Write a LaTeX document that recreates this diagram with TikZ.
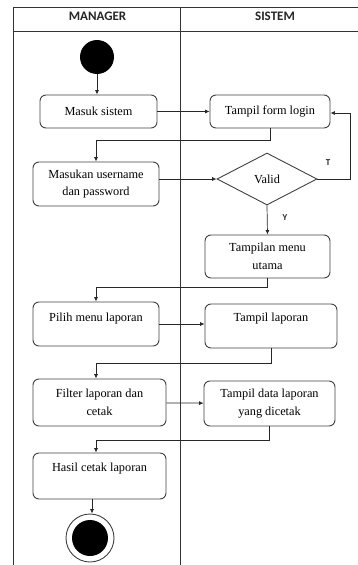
\documentclass[tikz,border=0pt]{standalone}
\usepackage{fontspec}
\setmainfont{Liberation Serif}
\newfontfamily\headfont{Carlito}
\usetikzlibrary{shapes.geometric,arrows.meta}
\tikzset{
  actbox/.style={draw=black!75, line width=0.9pt, rounded corners=6pt, align=center,
    inner sep=2pt, font=\fontsize{12.3}{17.5}\selectfont},
  decision/.style={diamond, draw=black!75, line width=0.9pt, inner sep=0pt,
    minimum width=100pt, minimum height=52pt, font=\fontsize{12.3}{17.5}\selectfont},
  flow/.style={draw=black!85, line width=0.7pt, -{Latex[length=4.5pt,width=4pt]}},
  lane/.style={draw=black!80, line width=0.9pt},
  lanehead/.style={font=\headfont\bfseries\fontsize{13}{15}\selectfont, text=black!85},
  guard/.style={font=\headfont\bfseries\fontsize{9}{10}\selectfont, text=black!85}
}
\begin{document}
\begin{tikzpicture}[x=1pt, y=-1pt]
  \useasboundingbox (0,0) rectangle (358,565);
  \draw[lane] (13,565) -- (13,7) -- (358,7);
  \draw[lane] (13,31) -- (358,31);
  \draw[lane] (180,7) -- (180,565);
  \node[lanehead] (hmgr) at (97.5,16) {MANAGER};
  \node[lanehead] (hsys) at (275,16) {SISTEM};

  \node (start) [circle, fill=black, minimum size=34pt, inner sep=0pt] at (97,57) {};
  \node (masuk) [actbox, minimum width=117pt, minimum height=33pt] at (98.5,111.5) {Masuk sistem};
  \node (login) [actbox, minimum width=120pt, minimum height=33pt] at (270,111.5) {Tampil form login};
  \node (masukan) [actbox, minimum width=126pt, minimum height=44pt] at (96,184) {Masukan username\\dan password};
  \node (valid) [decision] at (267,179) {Valid};
  \node (menu) [actbox, minimum width=125pt, minimum height=43pt] at (267.5,256.5) {Tampilan menu\\utama};
  \node (pilih) [actbox, minimum width=126pt, minimum height=44pt] at (96,324) {Pilih menu laporan\\[-4pt]~};
  \node (lap) [actbox, minimum width=132pt, minimum height=44pt] at (271,326) {Tampil laporan\\~};
  \node (filter) [actbox, minimum width=133pt, minimum height=47pt] at (99.5,402.5) {Filter laporan dan\\cetak};
  \node (data) [actbox, minimum width=131pt, minimum height=45pt] at (269.5,403.5) {Tampil data laporan\\yang dicetak};
  \node (hasil) [actbox, minimum width=133pt, minimum height=46pt] at (99.5,476) {Hasil cetak laporan\\~};
  \node (end) [circle, draw=black!75, line width=0.9pt, minimum size=48pt, inner sep=0pt] at (90,538) {};
  \fill (end.center) circle[radius=18];

  \draw[flow] (start) -- (start |- masuk.north);
  \draw[flow] (masuk) -- (login);
  \draw[flow] (login.south) -- ++(0,12) -| (masukan.north);
  \draw[flow] (masukan.east |- valid.west) -- (valid.west);
  \draw[flow] (valid.east) -- ++(33,0) coordinate (tloop) |- ([yshift=-1.5pt]login.east);
  \node[guard] (tlabel) at (328,163) {T};
  \draw[flow] (valid.south) -- (menu.north);
  \node[guard] (ylabel) at (285,218) {Y};
  \draw[flow] (menu.south) -- ++(0,9) -| (pilih.north);
  \draw[flow] (pilih.east) -- (pilih.east -| lap.west);
  \draw[flow] (lap.south) -- ++(0,15) -| (filter.north -| pilih.north);
  \draw[flow] (filter) -- (data);
  \draw[flow] (data.south) -- ++(0,14) -| (hasil.north -| pilih.north);
  \draw[flow] (hasil.south -| 92,0) -- (end.north -| 92,0);
\end{tikzpicture}
\end{document}
